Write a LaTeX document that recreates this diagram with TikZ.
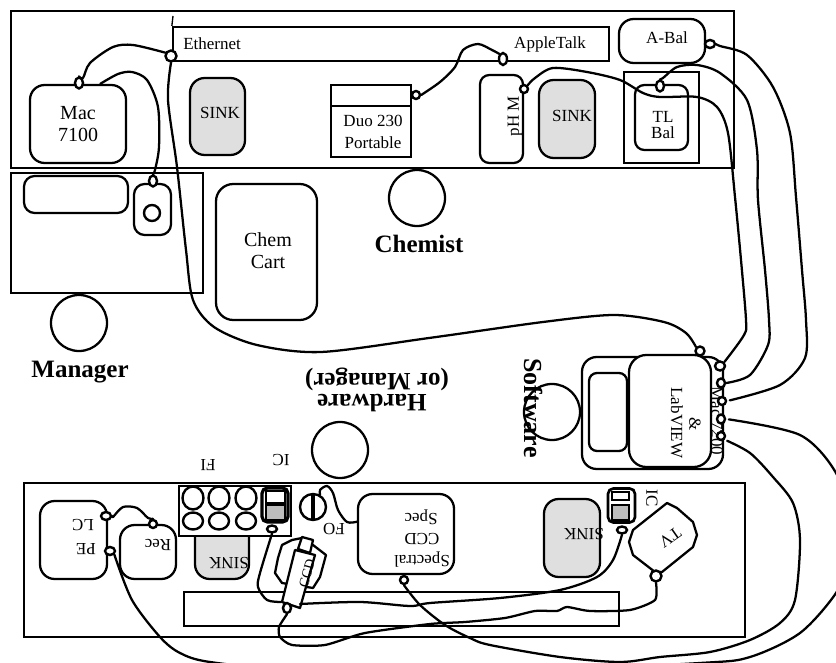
\documentclass[tikz,border=0pt]{standalone}
\usepackage{fontspec}
\setmainfont{Liberation Serif}
\usetikzlibrary{shapes.geometric}
\definecolor{sinkgray}{gray}{0.875}
\definecolor{icgray}{gray}{0.74}
\tikzset{
  wh/.style 2 args={minimum width=#1*0.75pt, minimum height=#2*0.75pt},
  bench/.style={draw, line width=2pt, inner sep=0pt},
  plainbox/.style={draw, line width=1.7pt, inner sep=0pt, align=center},
  roundbox/.style={plainbox, rounded corners=11pt},
  sinkbox/.style={roundbox, fill=sinkgray},
  port/.style={ellipse, draw, fill=white, line width=1.8pt, inner sep=0pt},
  person/.style={ellipse, draw, line width=1.7pt, inner sep=0pt, wh={56}{56}},
  cable/.style={line width=1.7pt, line cap=round, line join=round},
  small/.style={font=\fontsize{12.75pt}{15pt}\selectfont, align=center, inner sep=0pt},
  large/.style={font=\fontsize{15pt}{16pt}\selectfont, align=center, inner sep=0pt},
  who/.style={font=\fontsize{18.75pt}{20pt}\selectfont\bfseries, align=center, inner sep=0pt},
}
\begin{document}
\begin{tikzpicture}[x=0.75pt, y=-0.75pt]
  \clip (0,0) rectangle (836,663);

  % Chemist bench (top)
  \node[bench, wh={723}{157}] (topbench) at (372.5,89.5) {};
  \node[plainbox, wh={436}{34}] (netbox) at (391,44) {};
  \draw[line width=1pt] (173,16) -- (netbox.north west);
  \node[small, anchor=west] (ethernet) at (183,44) {Ethernet};
  \node[small] (appletalk) at (550,44) {AppleTalk};
  \node[roundbox, large, wh={96}{78}] (mac) at (78,124) {Mac\\7100};
  \node[sinkbox, wh={55}{77}] (sinka) at (217.5,116.5) {};
  \node[small] (sinkatext) at (220,113) {SINK};
  \node[plainbox, wh={80}{72}] (duo) at (371,121) {};
  \draw[line width=1.7pt] (331,106) -- (411,106);
  \node[small] (duotext) at (373,132) {Duo 230\\[2pt]Portable};
  \node[roundbox, rounded corners=7pt, wh={43}{88}] (phm) at (501.5,119) {};
  \node[small, rotate=90] (phmtext) at (515,116) {pH M};
  \node[sinkbox, wh={56}{78}] (sinkb) at (567,119) {};
  \node[small] (sinkbtext) at (572,116) {SINK};
  \node[bench, line width=1.7pt, wh={75}{91}] (tlouter) at (661.5,117.5) {};
  \node[roundbox, rounded corners=7pt, wh={53}{65}] (tlbal) at (661.5,117.5) {};
  \node[small, font=\fontsize{12.75pt}{12pt}\selectfont] (tltext) at (663,125) {TL\\Bal};
  \node[roundbox, wh={86}{44}] (abal) at (662,41) {};
  \node[small] (abaltext) at (667,38) {A-Bal};

  % Manager bench (left)
  \node[bench, wh={192}{120}] (leftbench) at (107,233) {};
  \node[roundbox, rounded corners=8pt, wh={104}{37}] (shelf) at (76,194.5) {};
  \node[roundbox, rounded corners=8pt, wh={37}{51}] (scale) at (152.5,209.5) {};
  \node[port, wh={16}{16}] (scaledial) at (152,213) {};
  \node[roundbox, rounded corners=13pt, wh={101}{136}] (cart) at (266.5,252) {};
  \node[large, font=\fontsize{15pt}{16.5pt}\selectfont] (carttext) at (268,251) {Chem\\Cart};

  % People
  \node[person] (chemist) at (417,198) {};
  \node[who] (chemisttext) at (419,244) {Chemist};
  \node[person] (manager) at (79,323) {};
  \node[who] (managertext) at (80,372) {Manager};
  \node[person] (hardware) at (340,450) {};
  \node[who, rotate=180] (hardwaretext) at (372,403) {Hardware};
  \node[who, rotate=180] (ormanager) at (377,379) {(or Manager)};
  \node[person] (software) at (552,412) {};

  % LabVIEW unit
  \node[roundbox, wh={141}{112}] (labunit) at (652.5,413) {};
  \node[roundbox, rounded corners=6pt, wh={38}{78}] (labdrive) at (608,412) {};
  \node[roundbox, rounded corners=13pt, fill=white, wh={82}{112}] (labscreen) at (670,411) {};
  \node[small, rotate=-90] (labview) at (677,423) {LabVIEW};
  \node[small, rotate=-90] (labamp) at (695,424) {\&};
  \node[small, rotate=-90] (labmac) at (717,421) {Mac 7200};
  \node[who, font=\fontsize{19.5pt}{20pt}\selectfont\bfseries, rotate=-90] (softwaretext) at (534,408) {Software};

  % Laser bench (bottom)
  \node[bench, wh={721}{154}] (lowbench) at (384.5,560) {};
  \node[plainbox, wh={435}{34}] (shelfbox) at (401.5,609) {};
  \node[roundbox, wh={67}{78}] (pelc) at (73.5,540) {};
  \node[small, rotate=180] (petext) at (86,549) {PE};
  \node[small, rotate=180] (lctext) at (83,525) {LC};
  \node[roundbox, wh={56}{54}] (rec) at (148,552) {};
  \node[small, rotate=180] (rectext) at (158,545) {Rec};
  \node[sinkbox, wh={54}{77}] (sinkc) at (222,540.5) {};
  \node[small, rotate=180] (sinkctext) at (229,563) {SINK};
  \node[plainbox, fill=white, wh={112}{50}] (fibox) at (235,511) {};
  \node[port, wh={21}{23}] (fia) at (193,498) {};
  \node[port, wh={21}{23}] (fib) at (219,498) {};
  \node[port, wh={21}{23}] (fic) at (246,498) {};
  \node[port, wh={20}{17}] (fid) at (193,521) {};
  \node[port, wh={20}{17}] (fie) at (219,521) {};
  \node[port, wh={20}{17}] (fif) at (246,521) {};
  \node[small, rotate=180] (fitext) at (208,465) {FI};
  \node[small, rotate=180] (ictext) at (281,460) {IC};
  \node[small, rotate=180] (fotext) at (334,529) {FO};

  % Detectors on the bench
  \node[roundbox, rounded corners=4pt, line width=2.4pt, wh={26}{34}] (icleft) at (275,505) {};
  \node[plainbox, wh={19}{12}] (icleftup) at (275.5,497) {};
  \node[plainbox, fill=icgray, wh={19}{15}] (icleftlow) at (275.5,512.5) {};
  \node[roundbox, rounded corners=4pt, line width=2pt, wh={27}{34}] (icright) at (621.5,505.5) {};
  \node[plainbox, wh={17}{8}] (icrightup) at (620.5,496) {};
  \node[plainbox, fill=icgray, wh={17}{15}] (icrightlow) at (620.5,512.5) {};
  \node[small, rotate=-90] (icrighttext) at (652,498) {IC};
  \node[port, wh={26}{26}] (fiber) at (313,507) {};
  \draw[line width=3pt] (fiber.north) -- (fiber.south);
  \node[roundbox, wh={96}{80}] (spectral) at (406,534) {};
  \node[small, rotate=180] (spectext) at (421,517) {Spec};
  \node[small, rotate=180] (ccdlabel) at (422,539) {CCD};
  \node[small, rotate=180] (speclabel) at (422,560) {Spectral};
  \node[sinkbox, wh={56}{78}] (sinkd) at (572,538) {};
  \node[small, rotate=180] (sinkdtext) at (584,534) {SINK};

  % TV and CCD outlines
  \draw[cable] (629,542) -- (633,530) -- (667,503) -- (677,508) -- (693,522) -- (697,535) -- (693,547) -- (662,572) -- (655,572) -- (633,555) -- cycle;
  \node[small, rotate=215] (tvtext) at (670,537) {TV};
  \draw[cable] (278,558) -- (282,545) -- (292,540) -- (302,538) -- (313,545) -- (326,555) -- (320,577) -- (313,588) -- (282,583) -- (275,573) -- cycle;
  \draw[cable, fill=white] (295,550) -- (315,555) -- (300,608) -- (282,602) -- cycle;
  \draw[cable, fill=white] (302,537) -- (313,540) -- (310,553) -- (298,549) -- cycle;
  \node[small, rotate=75, font=\fontsize{10.5pt}{12pt}\selectfont] (ccdtext) at (307,573) {CCD};
  \coordinate (tubeleft) at (281,602);
  \coordinate (tuberight) at (300,604);

  % Ports
  \node[port, wh={11}{11}] (ethport) at (171,56) {};
  \node[port, wh={8}{12}] (talkport) at (503,59) {};
  \node[port, wh={8}{11}] (macport) at (79,83) {};
  \node[port, wh={8}{8}] (duoport) at (416,95) {};
  \node[port, wh={8}{11}] (scaleport) at (153,181) {};
  \node[port, wh={8}{8}] (phport) at (524,89) {};
  \node[port, wh={8}{11}] (tlport) at (660,86) {};
  \node[port, wh={10}{8}] (abalport) at (710,44) {};
  \node[port, wh={9}{9}] (labtop) at (700,351) {};
  \node[port, wh={10}{9}] (laba) at (720,366) {};
  \node[port, wh={8}{9}] (labb) at (721,383) {};
  \node[port, wh={8}{8}] (labc) at (722,401) {};
  \node[port, wh={8}{9}] (labd) at (721,419) {};
  \node[port, wh={8}{8}] (labe) at (721,436) {};
  \node[port, wh={10}{8}] (lcport) at (106,516) {};
  \node[port, wh={10}{8}] (peport) at (110,551) {};
  \node[port, wh={8}{8}] (recport) at (153,524) {};
  \node[port, wh={10}{7}] (icleftport) at (272,529) {};
  \node[port, wh={10}{7}] (icrightport) at (622,530) {};
  \node[port, wh={8}{8}] (specport) at (404,580) {};
  \node[port, wh={11}{11}] (tvport) at (656,576) {};
  \node[port, wh={8}{10}] (ccdport) at (287,608) {};

  % Network cables
  \draw[cable] plot[smooth] coordinates {(ethport.150) (133,45) (113,47) (90,63) (83,78) (macport.north)};
  \draw[cable] plot[smooth] coordinates {(mac.61) (118,74) (132,72) (147,80) (158,107) (159,147) (155,170) (scaleport.north)};
  \draw[cable] plot[smooth] coordinates {(ethport.south) (168,100) (177,167) (186,250) (193,300) (214,327) (257,345) (321,352) (429,338) (543,322) (614,315) (664,322) (686,333) (labtop.north west)};
  \draw[cable] plot[smooth] coordinates {(duoport.east) (440,82) (455,67) (463,50) (478,44) (492,50) (talkport.north west)};

  % Instrument cables
  \draw[cable] plot[smooth] coordinates {(phport.north east) (535,78) (553,68) (587,72) (620,80) (643,93) (660,97) (697,97) (717,107) (728,133) (735,197) (741,260) (746,320) (744,335) (laba.north east)};
  \draw[cable] plot[smooth] coordinates {(tlport.north) (663,78) (677,67) (697,65) (720,73) (747,100) (757,150) (758,200) (765,270) (769,320) (768,345) (750,375) (labb.east)};
  \draw[cable, shorten >=2pt] plot[smooth] coordinates {(abalport.east) (720,46) (747,55) (773,87) (790,133) (796,197) (802,270) (806,320) (805,358) (780,385) (labc.east)};
  \draw[cable, shorten >=2pt] plot[smooth] coordinates {(peport.south east) (132,600) (160,637) (180,653) (210,662) (300,670) (500,672) (700,663) (750,657) (800,633) (836,593) (848,560) (848,520) (836,473) (800,435) (labd.east)};
  \draw[cable, shorten >=2pt] plot[smooth] coordinates {(specport.south) (420,605) (445,625) (470,638) (490,645) (560,657) (620,662) (660,657) (710,652) (750,640) (780,623) (795,600) (800,540) (793,503) (773,477) (750,453) (labe.south east)};

  % Bench cables
  \draw[cable] plot[smooth] coordinates {(lcport.east) (113,517) (123,507) (137,508) (148,518) (recport.north)};
  \draw[cable] plot[smooth] coordinates {(spectral.166) (347,522) (338,510) (333,493) (327,486) (320,490) (fiber.60)};
  \draw[cable] plot[smooth] coordinates {(icleftport.south) (260,573) (258,587) (267,600) (tubeleft)};
  \draw[cable] plot[smooth] coordinates {(icrightport.south) (613,560) (597,577) (560,590) (500,598) (430,603) (410,606) (360,602) (tuberight)};
  \draw[cable] plot[smooth, tension=0.4] coordinates {(tvport.south) (655,600) (630,610) (590,611) (567,607) (557,611) (535,611) (505,618) (465,622) (430,624) (365,633) (325,645) (292,645) (280,637) (279,627) (ccdport.south)};
\end{tikzpicture}
\end{document}
